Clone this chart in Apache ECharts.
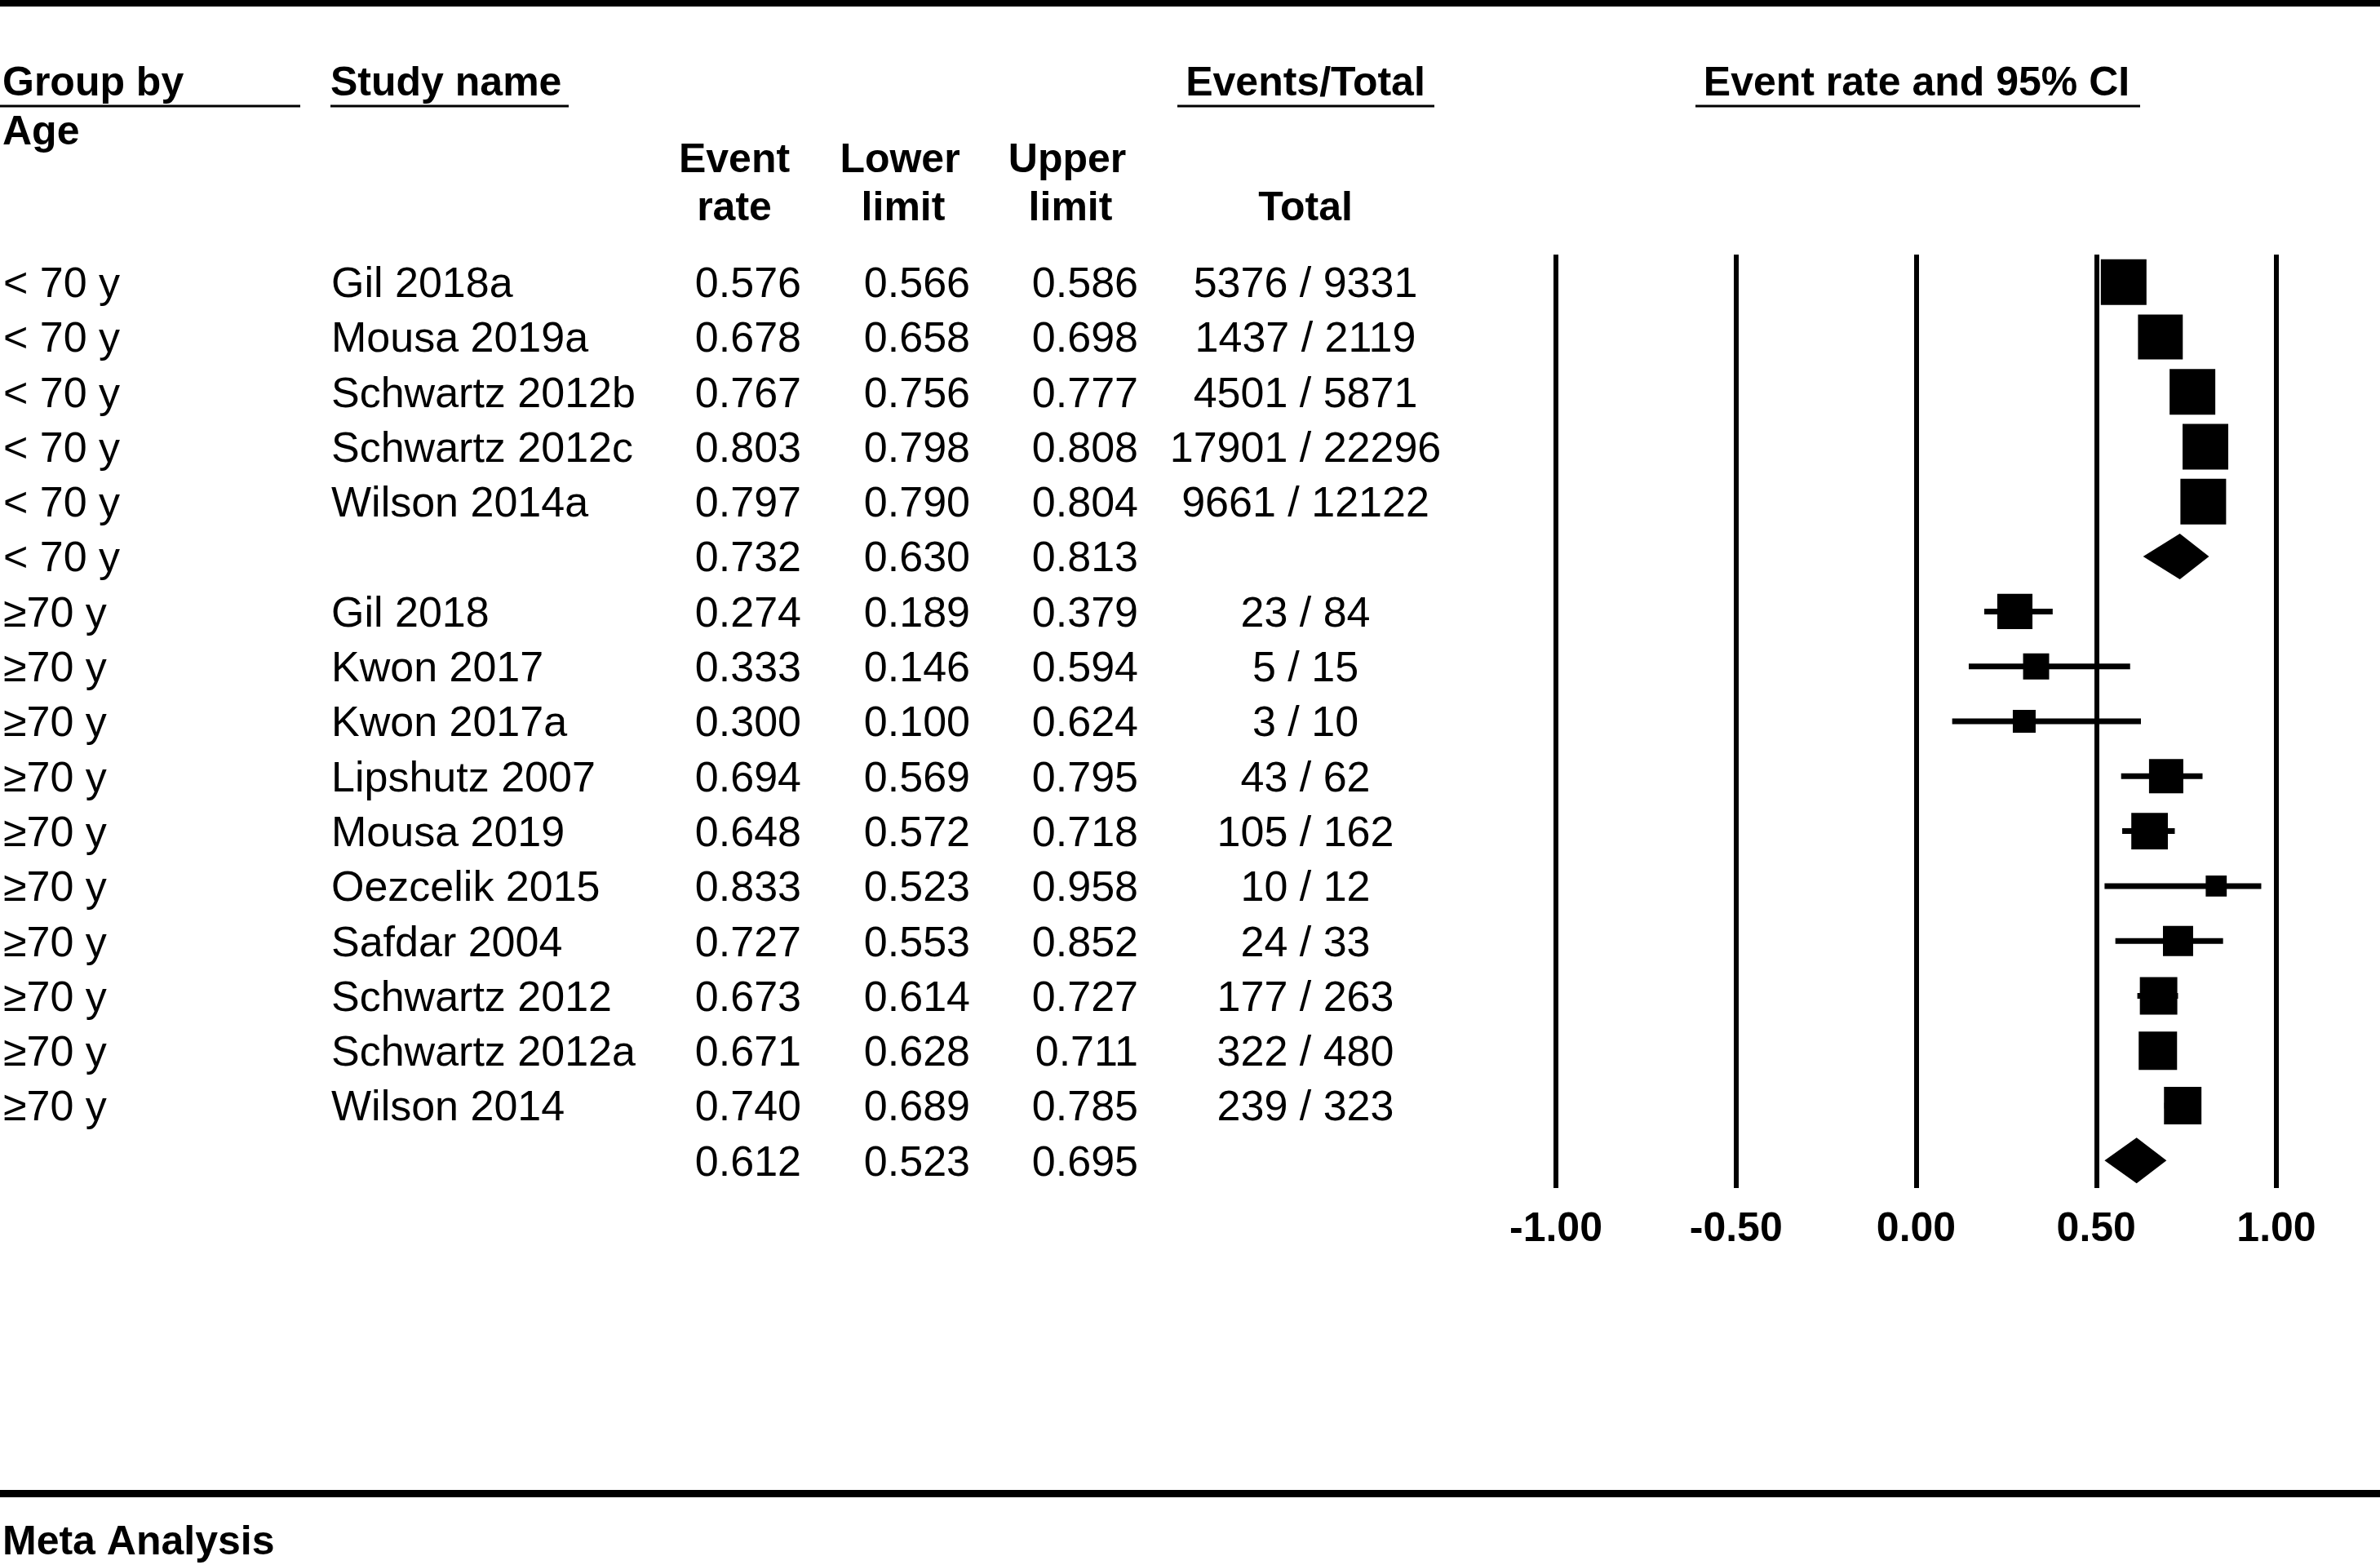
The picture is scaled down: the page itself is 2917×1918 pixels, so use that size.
<!DOCTYPE html>
<html>
<head>
<meta charset="utf-8">
<script src="https://cdn.jsdelivr.net/npm/echarts@6/dist/echarts.min.js"></script>
<style>
html,body{margin:0;padding:0;background:#fff;}
#chart{width:2917px;height:1918px;}
</style>
</head>
<body>
<div id="chart"></div>
<script>
// ---- data ----
const groups = ["< 70 y","< 70 y","< 70 y","< 70 y","< 70 y","< 70 y",
  "\u226570 y","\u226570 y","\u226570 y","\u226570 y","\u226570 y","\u226570 y","\u226570 y","\u226570 y","\u226570 y","\u226570 y",""];
const studies = ["Gil 2018a","Mousa 2019a","Schwartz 2012b","Schwartz 2012c","Wilson 2014a","",
  "Gil 2018","Kwon 2017","Kwon 2017a","Lipshutz 2007","Mousa 2019","Oezcelik 2015","Safdar 2004","Schwartz 2012","Schwartz 2012a","Wilson 2014",""];
const eventRate = [0.576,0.678,0.767,0.803,0.797,0.732,0.274,0.333,0.300,0.694,0.648,0.833,0.727,0.673,0.671,0.740,0.612];
const lowerLimit = [0.566,0.658,0.756,0.798,0.790,0.630,0.189,0.146,0.100,0.569,0.572,0.523,0.553,0.614,0.628,0.689,0.523];
const upperLimit = [0.586,0.698,0.777,0.808,0.804,0.813,0.379,0.594,0.624,0.795,0.718,0.958,0.852,0.727,0.711,0.785,0.695];
const totals = ["5376 / 9331","1437 / 2119","4501 / 5871","17901 / 22296","9661 / 12122","",
  "23 / 84","5 / 15","3 / 10","43 / 62","105 / 162","10 / 12","24 / 33","177 / 263","322 / 480","239 / 323",""];
const isSummary = [false,false,false,false,false,true,false,false,false,false,false,false,false,false,false,false,true];
// relative study weight (largest = 1), shown as marker size
const relWeight = [1,0.98,1,1,1,null,0.77,0.57,0.5,0.75,0.8,0.46,0.66,0.82,0.84,0.82,null];
const xTicks = [-1, -0.5, 0, 0.5, 1];

// ---- styles / layout ----
const FF = '"Liberation Sans", Arial, sans-serif';
const fNorm = 'normal 52px ' + FF;
const fBold = 'bold 50px ' + FF;
const MAXSZ = 56;
const TXT_DY = 4;
const colX = {group: 4, study: 406, rate: 982, lower: 1189, upper: 1395, total: 1600};

const chart = echarts.init(document.getElementById('chart'), null, {renderer: 'canvas'});

const rowData = eventRate.map((v, i) => [i, v, lowerLimit[i], upperLimit[i]]);

function hText(text, x, y, align, bold) {
  return {type: 'text', x: x, y: y + TXT_DY, style: {text: text, font: bold ? fBold : fNorm, fill: '#000', align: align, verticalAlign: 'middle'}};
}
function hLine(x1, x2, y, w) {
  return {type: 'line', shape: {x1: x1, y1: y, x2: x2, y2: y}, style: {stroke: '#000', lineWidth: w}};
}

const option = {
  animation: false,
  backgroundColor: '#fff',
  grid: {left: 1907, right: 127, top: 312, bottom: 462, containLabel: false},
  xAxis: {
    type: 'value', min: -1, max: 1, interval: 0.5,
    axisLine: {show: false}, axisTick: {show: false},
    splitLine: {show: true, lineStyle: {color: '#000', width: 6}},
    axisLabel: {formatter: v => v.toFixed(2), fontSize: 50, fontWeight: 'bold', color: '#000', fontFamily: FF, margin: 26}
  },
  yAxis: {
    type: 'value', min: -0.5, max: 16.5, inverse: true, show: false
  },
  graphic: [
    {type: 'rect', shape: {x: 0, y: 0, width: 2917, height: 8}, style: {fill: '#000'}},
    {type: 'rect', shape: {x: 0, y: 1826, width: 2917, height: 9}, style: {fill: '#000'}},
    hText('Group by', 3, 99, 'left', true),
    hLine(0, 368, 130, 3),
    hText('Study name', 405, 99, 'left', true),
    hLine(405, 697, 130, 3),
    hText('Events/Total', 1600, 99, 'center', true),
    hLine(1443, 1758, 130, 3),
    hText('Event rate and 95% CI', 2349, 99, 'center', true),
    hLine(2078, 2623, 130, 3),
    hText('Age', 3, 159, 'left', true),
    hText('Event', 900, 193, 'center', true),
    hText('rate', 900, 252, 'center', true),
    hText('Lower', 1103, 193, 'center', true),
    hText('limit', 1107, 252, 'center', true),
    hText('Upper', 1308, 193, 'center', true),
    hText('limit', 1312, 252, 'center', true),
    hText('Total', 1600, 252, 'center', true),
    hText('Meta Analysis', 3, 1887, 'left', true)
  ],
  series: [
    {
      type: 'custom',
      name: 'forest',
      data: rowData,
      z: 5,
      renderItem: function (params, api) {
        const i = api.value(0);
        const c = api.coord([api.value(1), i]);
        const lo = api.coord([api.value(2), i]);
        const hi = api.coord([api.value(3), i]);
        if (isSummary[i]) {
          const h = MAXSZ / 2;
          return {type: 'polygon', shape: {points: [[lo[0], c[1]], [c[0], c[1] - h], [hi[0], c[1]], [c[0], c[1] + h]]},
            style: {fill: '#000'}};
        }
        const s = MAXSZ * relWeight[i];
        return {type: 'group', children: [
          {type: 'line', shape: {x1: lo[0], y1: c[1], x2: hi[0], y2: c[1]}, style: {stroke: '#000', lineWidth: 7}},
          {type: 'rect', shape: {x: c[0] - s / 2, y: c[1] - s / 2, width: s, height: s}, style: {fill: '#000'}}
        ]};
      }
    },
    {
      type: 'custom',
      name: 'table',
      data: rowData,
      z: 5,
      renderItem: function (params, api) {
        const i = api.value(0);
        const y = api.coord([0, i])[1] + TXT_DY;
        const t = (text, x, align) => ({type: 'text', style: {text: text, x: x, y: y, font: fNorm, fill: '#000', align: align, verticalAlign: 'middle'}});
        return {type: 'group', children: [
          t(groups[i], colX.group, 'left'),
          t(studies[i], colX.study, 'left'),
          t(api.value(1).toFixed(3), colX.rate, 'right'),
          t(api.value(2).toFixed(3), colX.lower, 'right'),
          t(api.value(3).toFixed(3), colX.upper, 'right'),
          t(totals[i], colX.total, 'center')
        ]};
      }
    }
  ]
};
chart.setOption(option);
</script>
</body>
</html>
